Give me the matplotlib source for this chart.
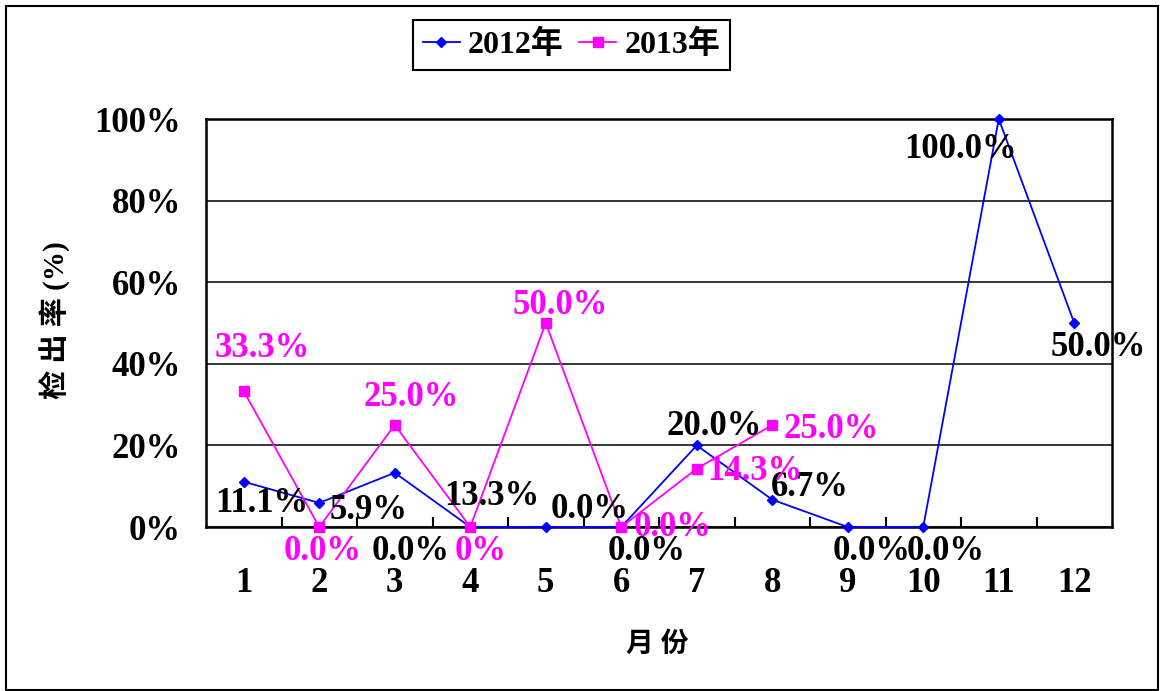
import matplotlib
matplotlib.use('Agg')
import matplotlib.pyplot as plt
from matplotlib.lines import Line2D
from matplotlib.patches import Rectangle

# monthly detection rate (%)
months = list(range(1, 13))
rate_2012 = [11.1, 5.9, 13.3, 0.0, 0.0, 0.0, 20.0, 6.7, 0.0, 0.0, 100.0, 50.0]
rate_2013 = [33.3, 0.0, 25.0, 0.0, 50.0, 0.0, 14.3, 25.0]
series_names = ['2012年', '2013年']
y_ticks = [0, 20, 40, 60, 80, 100]

labels_2012 = [f"{v:.1f}%" for v in rate_2012]
labels_2013 = [f"{v:.1f}%" for v in rate_2013]
labels_2013[3] = "0%"

# label offsets in pixels (dx right, dy down), hand-placed to avoid overlap
offs_2012 = [(18, 22), (49, 8), (97, 24), (-60, 24), (44, -17), (25, 24),
             (17, -19), (38, -12), (24, 24), (22, 24), (-38, 31), (24, 25)]
offs_2013 = [(19, -43), (3, 24), (16, -27), (10, 24), (14, -18), (51, 0),
             (58, 3), (59, 4)]

BLUE = '#0000FF'
MAGENTA = '#FF00FF'
FONT = ['Liberation Serif', 'Noto Sans CJK SC']
plt.rcParams['font.family'] = FONT
plt.rcParams['font.weight'] = 'bold'

fig = plt.figure(figsize=(11.61, 6.91), dpi=100)
ax = fig.add_axes([206 / 1161, 1 - 527 / 691, 906 / 1161, 408 / 691])

ax.plot(months, rate_2012, color=BLUE, lw=1.3, marker='D', ms=5.5,
        clip_on=False, zorder=3)
ax.plot(months[:len(rate_2013)], rate_2013, color=MAGENTA, lw=1.3,
        marker='s', ms=6.5, clip_on=False, zorder=4)

for m, v, lab, (dx, dy) in zip(months, rate_2012, labels_2012, offs_2012):
    ax.annotate(lab, (m, v), xytext=(dx, -dy), textcoords='offset pixels',
                ha='center', va='center', fontsize=25, fontweight='bold',
                color='black', zorder=5, annotation_clip=False)
for m, v, lab, (dx, dy) in zip(months, rate_2013, labels_2013, offs_2013):
    ax.annotate(lab, (m, v), xytext=(dx, -dy), textcoords='offset pixels',
                ha='center', va='center', fontsize=25, fontweight='bold',
                color=MAGENTA, zorder=5, annotation_clip=False)

ax.set_xlim(0.5, 12.5)
ax.set_ylim(0, 100)

# category labels on minor ticks, separators as inward major ticks
ax.set_xticks([m + 0.5 for m in months[:-1]])
ax.set_xticklabels([])
ax.tick_params(axis='x', which='major', direction='in', length=7, width=1.5)
ax.set_xticks(months, minor=True)
ax.set_xticklabels([str(m) for m in months], minor=True)
ax.tick_params(axis='x', which='minor', length=0, pad=29, labelsize=25)

ax.set_yticks(y_ticks)
ax.set_yticklabels([f"{t}%" for t in y_ticks])
ax.tick_params(axis='y', length=0, pad=18, labelsize=25)
for lab in ax.get_xticklabels(minor=True) + ax.get_yticklabels():
    lab.set_fontweight('bold')

ax.grid(axis='y', color='black', lw=1.1)
ax.set_axisbelow(True)
for sp in ax.spines.values():
    sp.set_linewidth(1.8)
    sp.set_color('black')

fig.text(55 / 1161, 1 - 320 / 691, '检 出 率 (%)', rotation=90,
         ha='center', va='center', fontsize=21, fontweight='bold')
fig.text(657 / 1161, 1 - 645 / 691, '月 份', ha='center', va='center',
         fontsize=20, fontweight='bold')

handles = [Line2D([], [], color=BLUE, lw=1.3, marker='D', ms=5.5),
           Line2D([], [], color=MAGENTA, lw=1.3, marker='s', ms=6.5)]
leg = fig.legend(handles, series_names, loc='center',
                 bbox_to_anchor=(571.5 / 1161, 1 - 45 / 691), ncol=2,
                 fancybox=False, framealpha=1, edgecolor='black',
                 handlelength=1.15, handletextpad=0.25, columnspacing=0.5,
                 borderpad=0.3, borderaxespad=0,
                 prop={'family': FONT, 'weight': 'bold', 'size': 23})
leg.get_frame().set_linewidth(1.5)

fig.add_artist(Rectangle((6 / 1161, 1 / 691), 1152 / 1161, 684 / 691,
                         transform=fig.transFigure, fill=False,
                         edgecolor='black', lw=1.5))

fig.savefig('out.png', dpi=100)
